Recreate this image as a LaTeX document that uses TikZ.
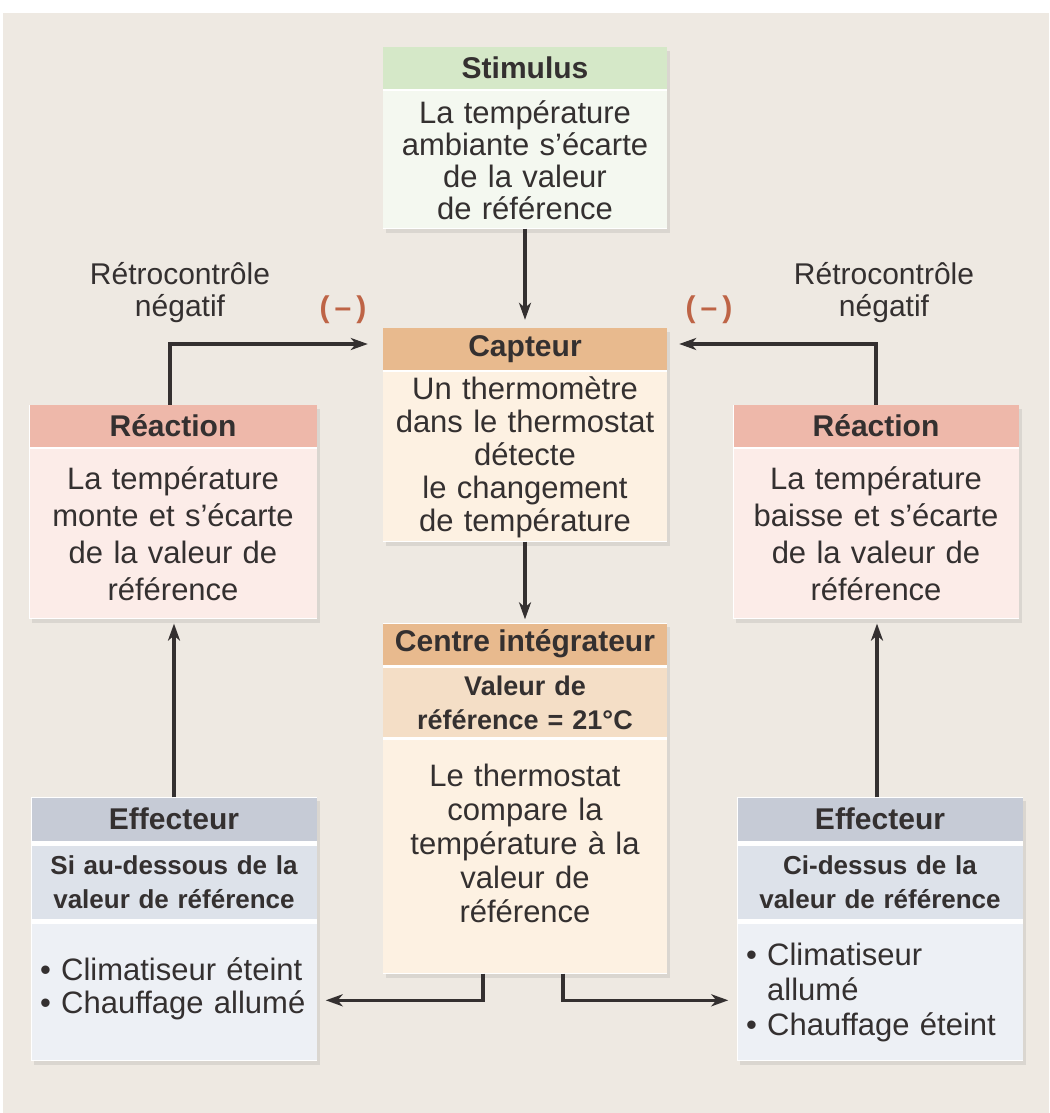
\documentclass[tikz,border=0pt]{standalone}
\usepackage{fontspec}
\setmainfont{Liberation Sans}
\usetikzlibrary{arrows.meta,positioning,fit,shadows}

\definecolor{fond}{RGB}{238,233,226}
\definecolor{ink}{RGB}{52,48,48}
\definecolor{moins}{RGB}{190,100,70}
\definecolor{stimhead}{RGB}{213,232,200}
\definecolor{stimbody}{RGB}{244,248,240}
\definecolor{tanhead}{RGB}{232,186,142}
\definecolor{tansub}{RGB}{244,222,198}
\definecolor{tanbody}{RGB}{253,241,226}
\definecolor{pinkhead}{RGB}{238,184,170}
\definecolor{pinkbody}{RGB}{252,236,232}
\definecolor{greyhead}{RGB}{198,203,214}
\definecolor{greysub}{RGB}{221,226,234}
\definecolor{greybody}{RGB}{237,240,245}

\pgfdeclarelayer{back}
\pgfdeclarelayer{shade}
\pgfsetlayers{back,shade,main}

\tikzset{
    head/.style={minimum width=284pt, minimum height=42pt, inner sep=0pt,
        text=ink, font=\bfseries\fontsize{30}{32}\selectfont},
    sub/.style={minimum width=284pt, inner sep=0pt, align=center, text width=272pt,
        text=ink, font=\bfseries\fontsize{26}{34}\selectfont},
    part/.style={minimum width=284pt, inner sep=0pt, align=center, text width=272pt,
        text=ink, font=\fontsize{31}{33}\selectfont},
    backing/.style={fill=white, inner sep=0pt,
        drop shadow={shadow xshift=3pt, shadow yshift=-4pt, opacity=.18}},
    note/.style={align=center, text=ink, font=\fontsize{30}{32}\selectfont},
    minus/.style={text=moins, font=\bfseries\fontsize{30}{32}\selectfont},
    conn/.style={->, line width=3.2pt, draw=ink}
}

\begin{document}
\begin{tikzpicture}[x=1pt, y=-1pt, >={Stealth[length=17pt,width=12pt,inset=5pt]}]
    \useasboundingbox (0,0) rectangle (1049,1113);
    \begin{pgfonlayer}{back}
        \fill[white] (0,0) rectangle (1049,1113);
        \fill[fond] (3,13) rectangle (1049,1113);
    \end{pgfonlayer}

    %stimulus
    \node[head, fill=stimhead] (stimH) at (525,68) {Stimulus};
    \node[part, fill=stimbody, minimum height=137pt, below=2pt of stimH, font=\fontsize{31}{32}\selectfont] (stimB)
        {La température\\ambiante s’écarte\\de la valeur\\de référence};

    %capteur
    \node[head, fill=tanhead] (capH) at (525,349) {Capteur};
    \node[part, fill=tanbody, minimum height=169pt, below=2pt of capH] (capB)
        {Un thermomètre\\dans le thermostat\\détecte\\le changement\\de température};

    %centre integrateur
    \node[head, fill=tanhead, minimum height=41pt] (centH) at (525,644) {Centre intégrateur};
    \node[sub, fill=tansub, minimum height=69pt, below=3pt of centH, font=\bfseries\fontsize{27}{34}\selectfont] (centS)
        {Valeur de\\référence = 21°C};
    \node[part, fill=tanbody, minimum height=233pt, below=3pt of centS, font=\fontsize{31}{34}\selectfont] (centB)
        {Le thermostat\\compare la\\température à la\\valeur de\\référence\\[-6pt]\mbox{}};

    %reactions
    \node[head, fill=pinkhead, minimum width=287pt] (reacLH) at (173,426) {Réaction};
    \node[part, fill=pinkbody, minimum width=287pt, minimum height=169pt, below=2pt of reacLH,
        font=\fontsize{31}{37}\selectfont] (reacLB)
        {La température\\monte et s’écarte\\de la valeur de\\référence};
    \node[head, fill=pinkhead, minimum width=285pt] (reacRH) at (876,426) {Réaction};
    \node[part, fill=pinkbody, minimum width=285pt, minimum height=169pt, below=2pt of reacRH,
        font=\fontsize{31}{37}\selectfont] (reacRB)
        {La température\\baisse et s’écarte\\de la valeur de\\référence};

    %effecteurs
    \node[head, fill=greyhead, minimum width=285pt, minimum height=43pt] (effLH) at (174,819) {Effecteur};
    \node[sub, fill=greysub, minimum width=285pt, minimum height=73pt, below=5pt of effLH] (effLS)
        {Si au-dessous de la\\valeur de référence};
    \node[part, fill=greybody, minimum width=285pt, minimum height=136pt, below=5pt of effLS,
        align=left, text width=268pt] (effLB)
        {• Climatiseur éteint\\• Chauffage allumé\\[-20pt]\mbox{}};
    \node[head, fill=greyhead, minimum width=285pt, minimum height=43pt] (effRH) at (880,819) {Effecteur};
    \node[sub, fill=greysub, minimum width=285pt, minimum height=73pt, below=5pt of effRH] (effRS)
        {Ci-dessus de la\\valeur de référence};
    \node[part, fill=greybody, minimum width=285pt, minimum height=136pt, below=5pt of effRS,
        align=left, text width=268pt, font=\fontsize{31}{35}\selectfont] (effRB)
        {• Climatiseur\\\phantom{• }allumé\\• Chauffage éteint};

    \begin{pgfonlayer}{shade}
        \foreach \hd/\bd in {stimH/stimB, capH/capB, centH/centB, reacLH/reacLB,
                reacRH/reacRB, effLH/effLB, effRH/effRB}
            \node[backing, fit=(\hd)(\bd)] (bk-\hd) {};
    \end{pgfonlayer}

    %labels
    \node[note] (retroL) at (180,293) {Rétrocontrôle\\négatif};
    \node[note] (retroR) at (884,293) {Rétrocontrôle\\négatif};
    \node[minus] (moinsL) at (343,310) {(\,–\,)};
    \node[minus] (moinsR) at (709,310) {(\,–\,)};

    %arrows
    \draw[conn, shorten >=8pt] (stimB) -- (capH);
    \draw[conn, shorten >=4pt] (capB) -- (centH);
    \draw[conn, shorten >=15pt] ([xshift=-3pt]reacLH.north) |- ([yshift=5pt]capH.west);
    \draw[conn, shorten >=12pt] (reacRH.north) |- ([yshift=5pt]capH.east);
    \draw[conn, shorten >=5pt] (effLH) -- (effLH |- reacLB.south);
    \draw[conn, shorten >=5pt] ([xshift=-3pt]effRH.north) -- ([xshift=-3pt]effRH |- reacRB.south);
    \draw[conn, shorten >=9pt] ([xshift=-42pt]centB.south) |- ([yshift=-8pt]effLB.east);
    \draw[conn, shorten >=9pt] ([xshift=38pt]centB.south) |- ([yshift=-8pt]effRB.west);
\end{tikzpicture}
\end{document}
